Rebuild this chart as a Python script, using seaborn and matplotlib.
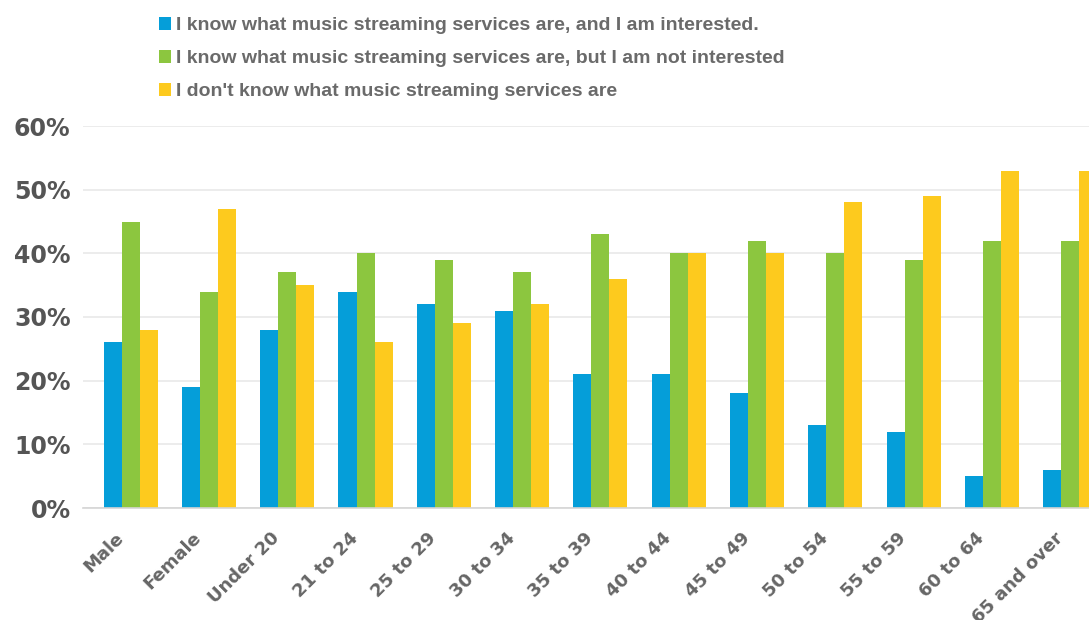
import numpy as np
import pandas as pd
import matplotlib
matplotlib.use("Agg")
import matplotlib.pyplot as plt
import seaborn as sns

# data (percent)
groups = ["Male", "Female", "Under 20", "21 to 24", "25 to 29", "30 to 34", "35 to 39",
          "40 to 44", "45 to 49", "50 to 54", "55 to 59", "60 to 64", "65 and over"]
answers = ["I know what music streaming services are, and I am interested.",
           "I know what music streaming services are, but I am not interested",
           "I don't know what music streaming services are"]
interested = [26, 19, 28, 34, 32, 31, 21, 21, 18, 13, 12, 5, 6]
not_interested = [45, 34, 37, 40, 39, 37, 43, 40, 42, 40, 39, 42, 42]
dont_know = [28, 47, 35, 26, 29, 32, 36, 40, 40, 48, 49, 53, 53]
colors = ["#059ed9", "#8cc63f", "#fdca1e"]
y_ticks = [0, 10, 20, 30, 40, 50, 60]

sns.set_style("white")

df = pd.DataFrame({
    "group": groups * 3,
    "answer": [answers[0]] * len(groups) + [answers[1]] * len(groups) + [answers[2]] * len(groups),
    "value": interested + not_interested + dont_know,
})

fig = plt.figure(figsize=(10.89, 6.2), dpi=100)
ax = fig.add_axes([83 / 1089, 1 - 508 / 620, 1 - 83 / 1089, (508 - 126) / 620])

sns.barplot(data=df, x="group", y="value", hue="answer", order=groups, hue_order=answers,
            palette=colors, saturation=1, width=0.69, linewidth=0, ax=ax)

ax.set_yticks(y_ticks)
ax.set_yticklabels([f"{v}%" for v in y_ticks], fontsize=17, fontweight="bold",
                   color="#555555", family="DejaVu Sans")
ax.tick_params(axis="y", length=0, pad=9)
ax.yaxis.grid(True, color="#ebebeb", linewidth=1.3)
ax.set_axisbelow(True)

# labels sit a little left of the group centre, as in the original
ax.set_xticks(np.arange(len(groups)) - 0.21)
ax.set_xticklabels(groups, rotation=45, ha="right", va="top", rotation_mode="anchor",
                   fontsize=13, fontweight="bold", color="#666666", family="DejaVu Sans")
ax.tick_params(axis="x", which="major", length=0, pad=15)
ax.set_xticks(np.arange(-0.5, len(groups), 1), minor=True)
ax.tick_params(axis="x", which="minor", length=6, width=1, color="#d5d5d5")

# limits after the ticks, so the minor ticks do not widen the view
ax.set_ylim(0, 60)
ax.set_xlim(-0.608, 12.24)

for side in ["top", "right", "left"]:
    ax.spines[side].set_visible(False)
ax.spines["bottom"].set_color("#d5d5d5")
ax.spines["bottom"].set_linewidth(1.2)
ax.set_xlabel("")
ax.set_ylabel("")

handles, labels = ax.get_legend_handles_labels()
ax.get_legend().remove()
fig.legend(handles, labels, loc="upper left", bbox_to_anchor=(159 / 1089, 1 - 17 / 620),
           frameon=False, borderpad=0, borderaxespad=0, handlelength=0.62, handleheight=0.62,
           handletextpad=0.25, labelspacing=0.82, labelcolor="#6a6a6a",
           prop={"family": "Liberation Sans", "weight": "bold", "size": 14})

fig.savefig("out.png", dpi=100)
